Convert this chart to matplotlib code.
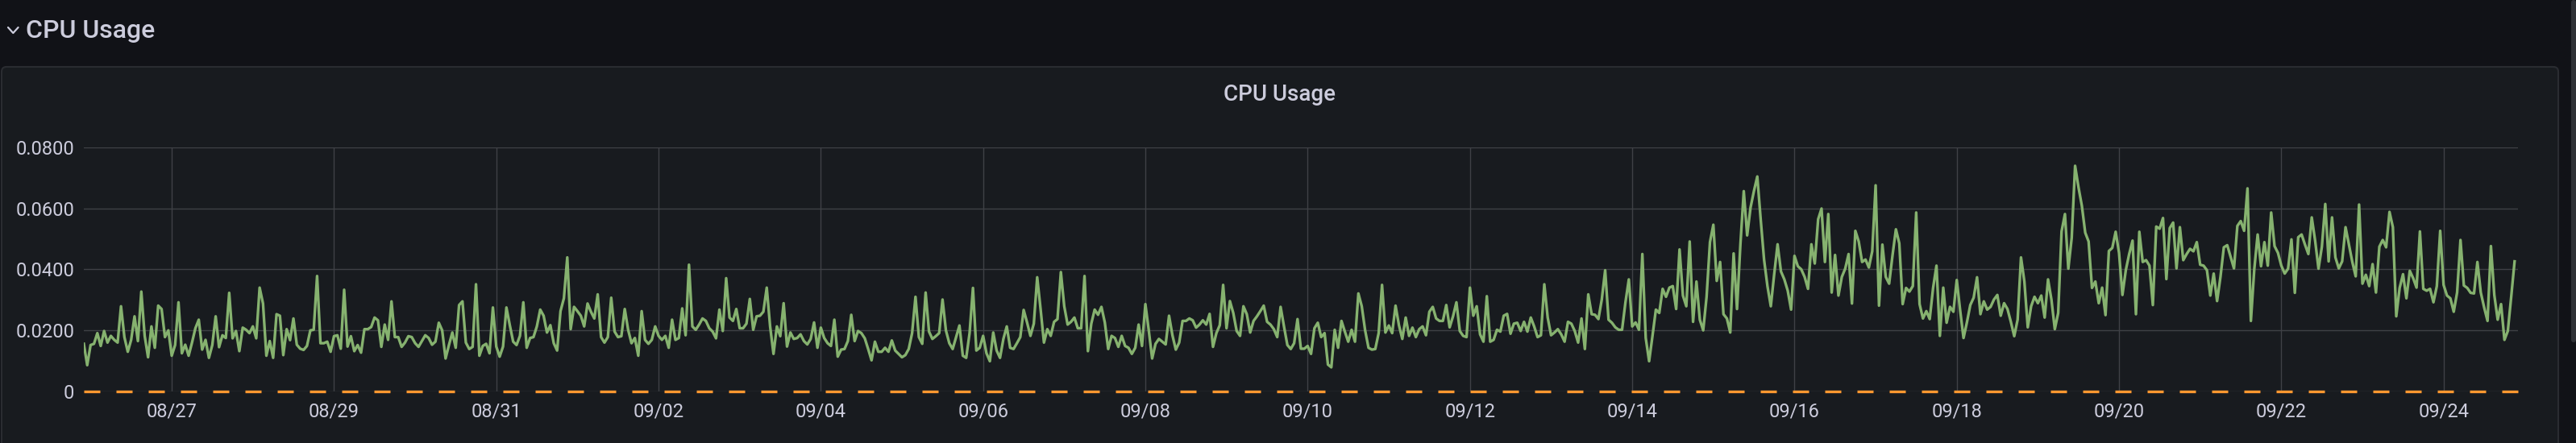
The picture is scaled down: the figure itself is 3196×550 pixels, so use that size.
import numpy as np
import pandas as pd
import matplotlib
matplotlib.use("Agg")
import matplotlib.pyplot as plt
import matplotlib.dates as mdates
from matplotlib.patches import FancyBboxPatch
from matplotlib.lines import Line2D
from matplotlib.transforms import IdentityTransform
from matplotlib.ticker import FuncFormatter

# ---------------- data ----------------
row_title = "CPU Usage"
panel_title = "CPU Usage"
start_time = "2024-08-25 22:00"      # first hourly sample
range_days = 30
x_tick_dates = pd.date_range("2024-08-27", "2024-09-24", freq="2D")
y_ticks = [0, 0.02, 0.04, 0.06, 0.08]
threshold_value = 0.0

# hourly CPU usage, in units of 1e-4
cpu_part1 = [156, 86, 152, 156, 191, 149, 198, 160, 182, 169,
             160, 279, 178, 130, 169, 246, 165, 327, 182, 112,
             213, 143, 281, 270, 178, 200, 117, 152, 292, 125,
             153, 117, 160, 207, 235, 137, 169, 110, 152, 246,
             145, 184, 175, 323, 174, 198, 132, 209, 202, 191,
             213, 174, 340, 288, 117, 165, 110, 253, 248, 119,
             204, 168, 239, 153, 140, 136, 149, 200, 202, 378,
             158, 158, 163, 130, 181, 184, 140, 333, 147, 181,
             132, 152, 127, 204, 204, 211, 242, 233, 146, 219,
             169, 295, 178, 178, 146, 160, 181, 178, 158, 146,
             165, 184, 175, 153, 163, 225, 200, 108, 152, 193,
             143, 283, 295, 160, 139, 146, 351, 117, 149, 156,
             125]
cpu_part2 = [275, 147, 114, 147, 275, 217, 163, 152, 182, 292,
             143, 175, 178, 213, 268, 248, 193, 217, 158, 134,
             263, 305, 439, 204, 277, 263, 248, 213, 288, 261,
             239, 318, 178, 160, 178, 307, 196, 178, 181, 270,
             202, 158, 175, 117, 263, 169, 156, 169, 213, 182,
             169, 182, 143, 235, 169, 175, 272, 184, 415, 213,
             202, 219, 239, 231, 207, 196, 174, 268, 198, 371,
             242, 231, 270, 207, 207, 222, 303, 202, 246, 248,
             261, 340, 213, 123, 213, 181, 289, 147, 193, 172,
             175, 187, 165, 154, 172, 226, 143, 209, 175, 158,
             149, 235, 114, 137, 139, 165, 251, 165, 198, 191,
             174, 139, 102, 163, 130, 130, 143, 130, 167]
cpu_part3 = [134, 123, 112, 119, 139, 191, 310, 178, 156, 324,
             196, 172, 181, 191, 301, 200, 158, 139, 178, 216,
             117, 110, 191, 339, 134, 143, 182, 125, 99, 193,
             134, 110, 172, 213, 143, 139, 158, 178, 267, 226,
             182, 222, 374, 270, 160, 204, 182, 228, 237, 391,
             279, 219, 228, 242, 207, 207, 378, 132, 222, 268,
             251, 277, 226, 139, 182, 175, 146, 182, 149, 143,
             123, 143, 219, 149, 286, 200, 108, 156, 172, 163,
             154, 248, 184, 137, 160, 231, 231, 239, 233, 209,
             219, 233, 219, 254, 146, 191, 217, 349, 207, 296,
             257, 198, 182, 279, 253, 193, 231, 246, 263, 281,
             228, 219, 204, 178, 277, 213, 152, 139, 158, 237]
cpu_part4 = [140, 140, 149, 123, 207, 225, 178, 191, 88, 79,
             202, 143, 231, 196, 163, 202, 163, 321, 279, 200,
             143, 137, 139, 191, 349, 193, 216, 191, 281, 217,
             172, 242, 182, 209, 178, 204, 213, 184, 261, 277,
             239, 231, 231, 283, 210, 246, 292, 198, 182, 178,
             340, 248, 279, 187, 163, 312, 163, 169, 202, 196,
             248, 254, 189, 222, 225, 198, 228, 196, 242, 213,
             178, 184, 351, 242, 184, 193, 204, 187, 163, 228,
             222, 198, 160, 239, 139, 318, 253, 251, 237, 301,
             397, 235, 225, 210, 202, 202, 292, 367, 213, 226,
             202, 450, 175, 99, 182, 268, 257, 336, 310, 340,
             345, 270, 465, 314, 279, 491, 228, 360, 235]
cpu_part5 = [200, 310, 489, 546, 362, 424, 253, 239, 193, 452,
             270, 481, 656, 511, 602, 656, 704, 564, 432, 345,
             279, 384, 482, 393, 367, 330, 268, 444, 410, 400,
             375, 336, 482, 419, 564, 599, 424, 581, 324, 447,
             314, 375, 402, 450, 288, 526, 491, 424, 432, 406,
             459, 675, 281, 481, 375, 353, 446, 531, 485, 286,
             339, 327, 345, 586, 286, 239, 263, 237, 339, 412,
             182, 340, 225, 277, 261, 365, 266, 175, 226, 283,
             307, 374, 253, 295, 268, 277, 301, 316, 248, 289,
             270, 228, 181, 235, 439, 360, 210, 279, 310, 289,
             314, 242, 367, 301, 204, 257, 524, 581, 402, 503,
             739, 669, 608, 520, 491, 339, 360, 289, 340]
cpu_part6 = [250, 460, 470]
cpu_part7 = [523, 454, 316, 397, 450, 494, 253, 523, 424, 430,
             412, 283, 540, 533, 568, 368, 535, 553, 403, 538,
             430, 450, 467, 459, 489, 415, 412, 397, 314, 386,
             296, 375, 472, 479, 441, 403, 542, 558, 526, 665,
             231, 400, 514, 410, 489, 412, 586, 476, 454, 412,
             386, 402, 498, 323, 505, 514, 481, 450, 570, 494,
             402, 474, 614, 426, 570, 439, 403, 426, 538, 481,
             424, 377, 612, 353, 382, 345, 417, 324, 474, 496,
             472, 588, 538, 246, 339, 384, 305, 395, 371, 340,
             524, 336, 330, 336, 292, 345, 526, 349, 314, 305,
             261, 324, 496, 347, 339, 323, 321, 424, 324, 275,
             231, 476, 316, 235, 286, 169, 198, 310, 426]

cpu = np.concatenate([cpu_part1, cpu_part2, cpu_part3, cpu_part4,
                      cpu_part5, cpu_part6, cpu_part7]).astype(float) / 10000.0
times = pd.date_range(start_time, periods=len(cpu), freq="h")

# ---------------- style ----------------
W, H = 3196, 550
BG = "#111217"
PANEL = "#181b1f"
BORDER = "#2a2c31"
TEXT = "#ccccdc"
GRID = "#3f4146"
GREEN = "#86b26f"
ORANGE = "#ff9830"
FONT = ["Roboto", "DejaVu Sans"]

plt.rcParams["font.family"] = FONT

fig = plt.figure(figsize=(W / 100, H / 100), dpi=100)
fig.patch.set_facecolor(BG)

# panel box (pixel coordinates, origin bottom-left)
panel = FancyBboxPatch((2, -30), 3172, (H - 83) + 30,
                       boxstyle="round,pad=0,rounding_size=6",
                       transform=IdentityTransform(), facecolor=PANEL,
                       edgecolor=BORDER, linewidth=1.5, zorder=-5)
fig.patches.append(panel)

# scrollbar thumb
sb = FancyBboxPatch((3190, H - 425), 6, 425,
                    boxstyle="round,pad=0,rounding_size=3",
                    transform=IdentityTransform(), facecolor="#2e3035",
                    edgecolor="none", zorder=-5)
fig.patches.append(sb)

# row header chevron + title
chev = Line2D([10, 16.3, 22.6], [H - 34, H - 41, H - 34],
              transform=IdentityTransform(), color=TEXT, lw=1.6,
              solid_capstyle="round", solid_joinstyle="round")
fig.lines.append(chev)
fig.text(32 / W, 1 - 47 / H, row_title, color=TEXT, fontsize=23,
         fontweight="medium", ha="left", va="baseline")

# panel title
fig.text(1588 / W, 1 - 125 / H, panel_title, color=TEXT, fontsize=20,
         fontweight="medium", ha="center", va="baseline")

# ---------------- plot ----------------
ax = fig.add_axes([104 / W, 1 - 486 / H, 3020 / W, (486 - 182.7) / H])
ax.set_facecolor("none")
ax.set_zorder(2)

ax.plot(times, cpu, color=GREEN, lw=2.4, zorder=3)
ax.axhline(threshold_value, color=ORANGE, lw=2.4, linestyle=(0, (6, 6)),
           dash_capstyle="butt", clip_on=False, zorder=4)

t0 = pd.Timestamp(start_time)
ax.set_xlim(t0, t0 + pd.Timedelta(days=range_days))
ax.set_ylim(0, 0.08)

ax.set_xticks(x_tick_dates)
ax.xaxis.set_major_formatter(mdates.DateFormatter("%m/%d"))
ax.set_yticks(y_ticks)
ax.yaxis.set_major_formatter(FuncFormatter(lambda v, p: "0" if v == 0 else f"{v:.4f}"))

ax.grid(True, color=GRID, lw=1.0, zorder=1)
for s in ax.spines.values():
    s.set_visible(False)
ax.tick_params(axis="both", length=0, colors=TEXT, labelsize=17)
ax.tick_params(axis="x", pad=10)
ax.tick_params(axis="y", pad=8.5)

fig.savefig("out.png", dpi=100, facecolor=BG)
